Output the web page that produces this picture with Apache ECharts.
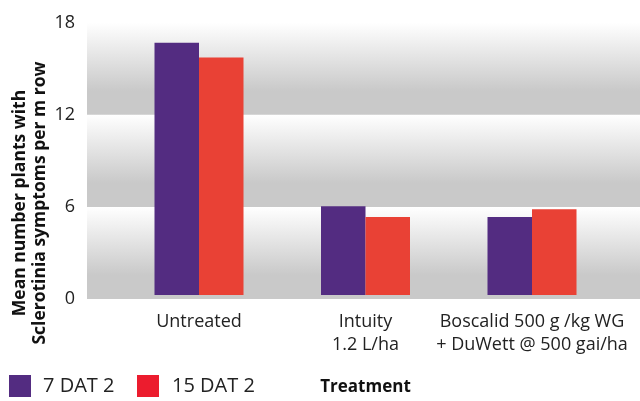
<!DOCTYPE html>
<html>
<head>
<meta charset="utf-8">
<script src="https://cdn.jsdelivr.net/npm/echarts@6/dist/echarts.min.js"></script>
<style>
html,body{margin:0;padding:0;background:#fff;}
#chart{width:640px;height:401px;}
</style>
</head>
<body>
<div id="chart"></div>
<script>
const categories = ['Untreated', 'Intuity\n1.2 L/ha', 'Boscalid 500 g /kg WG\n+ DuWett @ 500 gai/ha'];
const seriesNames = ['7 DAT 2', '15 DAT 2'];
const dat7 = [16.68, 5.86, 5.15];
const dat15 = [15.70, 5.15, 5.67];
const yTicks = [0, 6, 12, 18];
const xTitle = 'Treatment';
const yTitle = 'Mean number plants with\nSclerotinia symptoms per m row';

const FONT = '"Open Sans", "Noto Sans", sans-serif';
const purple = '#532c81';
const red = '#e94135';
const legendRed = '#ec1c2e';

const band = {
  type: 'linear', x: 0, y: 0, x2: 0, y2: 1,
  colorStops: [
    {offset: 0, color: '#ffffff'},
    {offset: 0.74, color: '#c9c9c9'},
    {offset: 1, color: '#c9c9c9'}
  ]
};

const chart = echarts.init(document.getElementById('chart'), null, {renderer: 'canvas'});
chart.setOption({
  animation: false,
  backgroundColor: '#ffffff',
  grid: [
    {left: 87, right: 0, top: 22.7, bottom: 102},
    {left: 115.75, right: 24.75, top: 22.7, bottom: 102}
  ],
  legend: [
    {data: [{name: seriesNames[0], itemStyle: {color: purple}}], left: 9, top: 375,
     itemWidth: 22, itemHeight: 22, icon: 'rect', padding: 0,
     textStyle: {fontFamily: FONT, fontSize: 20, color: '#222', padding: [3, 0, 0, 7]}},
    {data: [{name: seriesNames[1], itemStyle: {color: legendRed}}], left: 137, top: 375,
     itemWidth: 22, itemHeight: 22, icon: 'rect', padding: 0,
     textStyle: {fontFamily: FONT, fontSize: 20, color: '#222', padding: [3, 0, 0, 8]}}
  ],
  xAxis: [
    {type: 'value', gridIndex: 0, min: 0, max: 1, show: false},
    {type: 'category', gridIndex: 1, data: categories,
     axisLine: {show: false}, axisTick: {show: false},
     axisLabel: {fontFamily: FONT, fontSize: 18, color: '#222', margin: 15, lineHeight: 23, interval: 0},
     name: xTitle, nameLocation: 'middle', nameGap: 84,
     nameTextStyle: {fontFamily: FONT, fontSize: 17, fontWeight: 'bold', color: '#111'}}
  ],
  yAxis: [
    {type: 'value', gridIndex: 0, min: yTicks[0], max: yTicks[yTicks.length - 1], interval: 6,
     axisLine: {show: false}, axisTick: {show: false}, splitLine: {show: false},
     splitArea: {show: true, areaStyle: {color: [band]}},
     axisLabel: {fontFamily: FONT, fontSize: 18, color: '#222', margin: 12}},
    {type: 'value', gridIndex: 1, min: yTicks[0], max: yTicks[yTicks.length - 1], interval: 6, show: false}
  ],
  graphic: [
    {type: 'text', x: 30, y: 203, rotation: Math.PI / 2,
     style: {text: yTitle, fontFamily: FONT, fontSize: 17.5, fontWeight: 'bold', fill: '#111',
             align: 'center', verticalAlign: 'middle', lineHeight: 20}}
  ],
  series: [
    {name: seriesNames[0], type: 'bar', xAxisIndex: 1, yAxisIndex: 1, data: dat7,
     barWidth: 44.5, barGap: '0%', itemStyle: {color: purple}},
    {name: seriesNames[1], type: 'bar', xAxisIndex: 1, yAxisIndex: 1, data: dat15,
     barWidth: 44.5, barGap: '0%', itemStyle: {color: red}}
  ]
});
</script>
</body>
</html>
